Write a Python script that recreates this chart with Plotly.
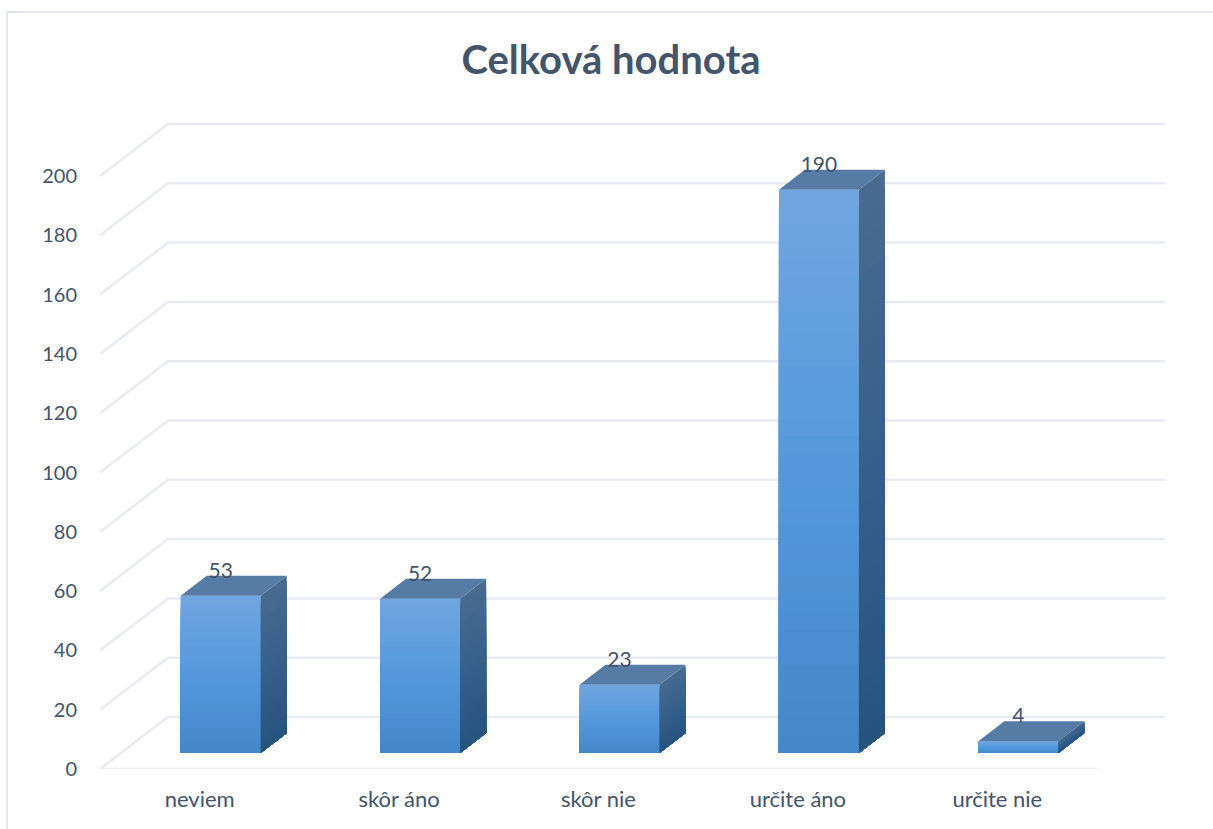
import plotly.graph_objects as go

# ---- data ----
categories = ["neviem", "skôr áno", "skôr nie", "určite áno", "určite nie"]
values = [53, 52, 23, 190, 4]
y_ticks = [0, 20, 40, 60, 80, 100, 120, 140, 160, 180, 200]
title_text = "Celková hodnota"

# ---- oblique 3-D look, expressed in axis units ----
CAT_PX = 199.4          # pixels per category
VAL_PX = 2.965          # pixels per value unit
WALL_DX = 68 / CAT_PX   # depth of the floor
WALL_DY = 52 / VAL_PX
BAR_HALF = 40 / CAT_PX
BAR_SHIFT_X = 21 / CAT_PX  # bar front sits back from the floor front edge
BAR_SHIFT_Y = 16 / VAL_PX
BAR_DX = 26 / CAT_PX
BAR_DY = 20 / VAL_PX
LABEL_GAP = 7.8
N_BANDS = 32

W, H = 1213, 829
L, R, T, B = 100, 33, 60, 60
x_min = -0.5
x_max = x_min + (W - L - R) / CAT_PX
y_min = 0
y_max = (H - T - B) / VAL_PX

TEXT = "#44546a"
GRID = "#e8ebf1"
FONT = "Lato"


def mix(a, b, t):
    return tuple(a[i] + (b[i] - a[i]) * t for i in range(3))


def grad(stops, t):
    n = len(stops) - 1
    k = min(int(t * n), n - 1)
    c = mix(stops[k], stops[k + 1], t * n - k)
    return "rgb(%d,%d,%d)" % tuple(round(v) for v in c)


FRONT = [(113, 166, 223), (84, 153, 220), (68, 135, 201)]
SIDE = [(73, 107, 143), (54, 96, 140), (39, 83, 127)]
TOP = "rgb(86,124,166)"

fig = go.Figure()

# walls: gridlines and diagonals
gx, gy = [], []
for v in y_ticks:
    gx += [x_min, x_min + WALL_DX, x_min + len(categories) + WALL_DX, None]
    gy += [v, v + WALL_DY, v + WALL_DY, None]
gx += [x_min, x_min + len(categories), None]
gy += [0, 0, None]
fig.add_trace(go.Scatter(x=gx, y=gy, mode="lines", line=dict(color=GRID, width=2.5),
                         hoverinfo="skip", showlegend=False))

# gradient faces: each level is painted from its top down to the bar's foot
for k in range(N_BANDS):
    t0 = k / N_BANDS
    fx, fy, sx, sy = [], [], [], []
    for i, v in enumerate(values):
        base = BAR_SHIFT_Y
        left = i + BAR_SHIFT_X - BAR_HALF
        right = i + BAR_SHIFT_X + BAR_HALF
        top = base + v * (1 - t0)
        fx += [left, right, right, left, left, None]
        fy += [top, top, base, base, top, None]
        sx += [right, right + BAR_DX, right + BAR_DX, right, right, None]
        sy += [top, top + BAR_DY, base + BAR_DY, base, top, None]
    tc = (k + 0.5) / N_BANDS
    fig.add_trace(go.Scatter(x=fx, y=fy, mode="lines", fill="toself", fillcolor=grad(FRONT, tc),
                             line=dict(width=0), hoverinfo="skip", showlegend=False))
    fig.add_trace(go.Scatter(x=sx, y=sy, mode="lines", fill="toself", fillcolor=grad(SIDE, tc),
                             line=dict(width=0), hoverinfo="skip", showlegend=False))

# top faces
tx, ty = [], []
for i, v in enumerate(values):
    left = i + BAR_SHIFT_X - BAR_HALF
    right = i + BAR_SHIFT_X + BAR_HALF
    top = BAR_SHIFT_Y + v
    tx += [left, right, right + BAR_DX, left + BAR_DX, left, None]
    ty += [top, top, top + BAR_DY, top + BAR_DY, top, None]
fig.add_trace(go.Scatter(x=tx, y=ty, mode="lines", fill="toself", fillcolor=TOP,
                         line=dict(width=0), hoverinfo="skip", showlegend=False))

# data labels
fig.add_trace(go.Scatter(
    x=[i + BAR_SHIFT_X for i in range(len(values))],
    y=[BAR_SHIFT_Y + v + LABEL_GAP for v in values],
    mode="text", text=[str(v) for v in values], textposition="middle center",
    textfont=dict(family=FONT, size=21, color=TEXT),
    hoverinfo="skip", showlegend=False))

# chart frame: left and top edges are the only ones inside the picture
fig.add_shape(type="rect", xref="paper", yref="paper", layer="below",
              x0=(7 - L) / (W - L - R), x1=(1240 - L) / (W - L - R),
              y0=(H - B - 850) / (H - T - B), y1=(H - B - 12) / (H - T - B),
              line=dict(color="#e0e6ee", width=2), fillcolor="white")

fig.update_layout(
    width=W, height=H, autosize=False,
    margin=dict(l=L, r=R, t=T, b=B),
    paper_bgcolor="white", plot_bgcolor="rgba(0,0,0,0)",
    showlegend=False,
    font=dict(family=FONT, color=TEXT, size=20),
    title=dict(text="<b>%s</b>" % title_text, x=611 / W, xanchor="center",
               y=1 - 60 / H, yanchor="middle",
               font=dict(family=FONT, size=40, color=TEXT)),
    xaxis=dict(range=[x_min, x_max], tickvals=list(range(len(categories))), ticktext=categories,
               showgrid=False, zeroline=False, showline=False, ticks="",
               ticklabelstandoff=15, tickfont=dict(family=FONT, size=22, color=TEXT), fixedrange=True),
    yaxis=dict(range=[y_min, y_max], tickvals=y_ticks, showgrid=False, zeroline=False,
               showline=False, ticks="", ticklabelstandoff=22,
               tickfont=dict(family=FONT, size=20, color=TEXT), fixedrange=True),
)

fig.write_html("out.html", config=dict(displayModeBar=False),
               post_script="document.body.style.margin='0';document.documentElement.style.overflow='hidden';")
